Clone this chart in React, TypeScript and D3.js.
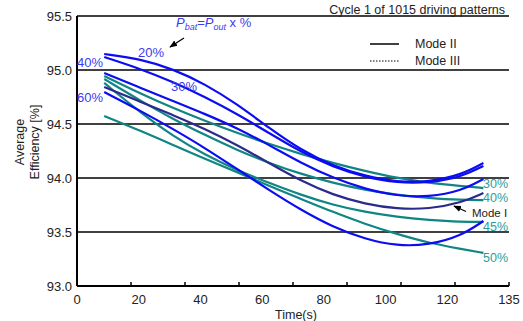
import React from "react";
import * as d3 from "d3";

// Time samples (s)
const times = [8.5, 20, 30, 40, 50, 60, 70, 80, 90, 100, 110, 120, 127];

// Mode III (blue) series
const blue20 = [95.148, 95.102, 95.009, 94.87, 94.685, 94.463, 94.259, 94.111, 94.019, 93.963, 93.963, 94.028, 94.139];
const blue40 = [95.12, 95.009, 94.889, 94.75, 94.593, 94.417, 94.241, 94.102, 94.009, 93.954, 93.954, 94.009, 94.111];
const blue30 = [94.972, 94.833, 94.713, 94.593, 94.463, 94.306, 94.139, 94.0, 93.898, 93.833, 93.824, 93.88, 93.991];
const blue60 = [94.796, 94.62, 94.454, 94.278, 94.083, 93.889, 93.704, 93.546, 93.435, 93.37, 93.38, 93.463, 93.602];

// Mode II (teal) series
const teal30 = [94.944, 94.778, 94.648, 94.528, 94.417, 94.315, 94.222, 94.139, 94.065, 94.0, 93.954, 93.926, 93.907];
const teal40 = [94.917, 94.713, 94.546, 94.398, 94.259, 94.139, 94.037, 93.954, 93.889, 93.843, 93.815, 93.796, 93.796];
const teal45 = [94.88, 94.602, 94.389, 94.213, 94.074, 93.954, 93.843, 93.75, 93.685, 93.639, 93.611, 93.593, 93.593];
const teal50 = [94.574, 94.435, 94.306, 94.176, 94.056, 93.926, 93.806, 93.685, 93.574, 93.481, 93.398, 93.343, 93.306];

// Mode I (navy)
const modeI = [94.843, 94.704, 94.583, 94.454, 94.306, 94.139, 93.972, 93.843, 93.759, 93.713, 93.713, 93.769, 93.861];

const yTicks = [93.0, 93.5, 94.0, 94.5, 95.0, 95.5];
const xTickLabels = ["0", "20", "40", "60", "80", "100", "120", "135"];
const xMinorCount = 8;

const W = 523;
const H = 321;
const M = { left: 77, right: 509, top: 16, bottom: 286 };

const BLUE = "#0c0cf2";
const TEAL = "#118585";
const NAVY = "#2b2a8c";
const BLUE_TXT = "#3a3af0";
const TEAL_TXT = "#2a9d9d";
const FONT = "'Liberation Sans', Arial, Helvetica, sans-serif";

export default function App() {
  const x = d3.scaleLinear().domain([0, 135]).range([M.left, M.right]);
  const y = d3.scaleLinear().domain([93, 95.5]).range([M.bottom, M.top]);
  const xLab = d3.scalePoint<string>().domain(xTickLabels).range([M.left, M.right]);
  const minorTicks = d3.range(xMinorCount + 1).map((i) => M.left + ((M.right - M.left) * i) / xMinorCount);

  const line = d3
    .line<number>()
    .x((_, i) => x(times[i]))
    .y((v) => y(v))
    .curve(d3.curveBasis);

  const blueSeries = [blue20, blue40, blue30, blue60];
  const tealSeries = [teal30, teal40, teal45, teal50];

  return (
    <svg
      width={W}
      height={H}
      style={{ position: "absolute", left: 0, top: 0, background: "#fff" }}
      fontFamily={FONT}
    >
      {/* grid lines */}
      {yTicks.slice(1).map((t) => (
        <line key={t} x1={M.left} x2={M.right} y1={y(t)} y2={y(t)} stroke="#000" strokeWidth={1.6} />
      ))}
      {/* axes */}
      <line x1={M.left} x2={M.left} y1={M.top} y2={M.bottom} stroke="#000" strokeWidth={2} />
      <line x1={M.left} x2={M.right} y1={M.bottom} y2={M.bottom} stroke="#000" strokeWidth={2} />
      {minorTicks.map((px, i) => (
        <line key={i} x1={px} x2={px} y1={M.bottom} y2={M.bottom - 4} stroke="#000" strokeWidth={1.5} />
      ))}
      {/* y tick labels */}
      {yTicks.map((t) => (
        <text key={t} x={72} y={y(t)} dy="0.35em" textAnchor="end" fontSize={13} fill="#222">
          {d3.format(".1f")(t)}
        </text>
      ))}
      {/* x tick labels */}
      {xTickLabels.map((l) => (
        <text key={l} x={xLab(l)} y={304} textAnchor="middle" fontSize={13} fill="#222">
          {l}
        </text>
      ))}
      <text x={296} y={319} textAnchor="middle" fontSize={12.5} fill="#222">
        Time(s)
      </text>
      <text transform="translate(20,142) rotate(-90)" textAnchor="middle" dy="0.35em" fontSize={12.5} fill="#222">
        Average
      </text>
      <text transform="translate(35,142) rotate(-90)" textAnchor="middle" dy="0.35em" fontSize={12.5} fill="#222">
        Efficiency [%]
      </text>

      {/* title */}
      <text x={505} y={14} textAnchor="end" fontSize={12.5} fill="#222">
        Cycle 1 of 1015 driving patterns
      </text>

      {/* curves */}
      {tealSeries.map((s, i) => (
        <path key={"t" + i} d={line(s) || ""} fill="none" stroke={TEAL} strokeWidth={2.2} />
      ))}
      <path d={line(modeI) || ""} fill="none" stroke={NAVY} strokeWidth={2.2} />
      {blueSeries.map((s, i) => (
        <path key={"b" + i} d={line(s) || ""} fill="none" stroke={BLUE} strokeWidth={2.2} />
      ))}

      {/* legend */}
      <line x1={370} x2={399} y1={44} y2={44} stroke="#000" strokeWidth={1.5} />
      <text x={415} y={44} dy="0.35em" fontSize={12.5} fill="#222">Mode II</text>
      <line x1={370} x2={399} y1={61} y2={61} stroke="#000" strokeWidth={1} strokeDasharray="1.5,1.5" />
      <text x={415} y={61} dy="0.35em" fontSize={12.5} fill="#222">Mode III</text>

      {/* Pbat label */}
      <text x={176} y={27} fontSize={13} fill={BLUE_TXT}>
        <tspan fontStyle="italic">P</tspan>
        <tspan fontStyle="italic" fontSize={9} dy={3}>bat</tspan>
        <tspan dy={-3}>=</tspan>
        <tspan fontStyle="italic">P</tspan>
        <tspan fontStyle="italic" fontSize={9} dy={3}>out</tspan>
        <tspan dy={-3}> x %</tspan>
      </text>
      {/* arrow to curves */}
      <defs>
        <marker id="ah" viewBox="0 0 10 10" refX={9} refY={5} markerWidth={6} markerHeight={6} orient="auto">
          <path d="M0,1 L10,5 L0,9 z" fill="#000" />
        </marker>
      </defs>
      <line x1={184} y1={38} x2={170} y2={47} stroke="#000" strokeWidth={1.3} markerEnd="url(#ah)" />

      {/* blue labels */}
      <text x={151} y={52} dy="0.35em" textAnchor="middle" fontSize={13} fill={BLUE_TXT}>20%</text>
      <text x={90} y={62} dy="0.35em" textAnchor="middle" fontSize={13} fill={BLUE_TXT}>40%</text>
      <text x={184} y={86} dy="0.35em" textAnchor="middle" fontSize={13} fill={BLUE_TXT}>30%</text>
      <text x={90} y={97} dy="0.35em" textAnchor="middle" fontSize={13} fill={BLUE_TXT}>60%</text>

      {/* teal labels */}
      <text x={483} y={184} dy="0.35em" fontSize={12.5} fill={TEAL_TXT}>30%</text>
      <text x={483} y={198} dy="0.35em" fontSize={12.5} fill={TEAL_TXT}>40%</text>
      <text x={483} y={226.5} dy="0.35em" fontSize={12.5} fill={TEAL_TXT}>45%</text>
      <text x={483} y={258} dy="0.35em" fontSize={12.5} fill={TEAL_TXT}>50%</text>

      {/* Mode I */}
      <text x={472} y={212.5} dy="0.35em" fontSize={11.5} fill="#222">Mode I</text>
      <line x1={466} y1={211.5} x2={454} y2={206} stroke="#000" strokeWidth={1.3} markerEnd="url(#ah)" />
    </svg>
  );
}
